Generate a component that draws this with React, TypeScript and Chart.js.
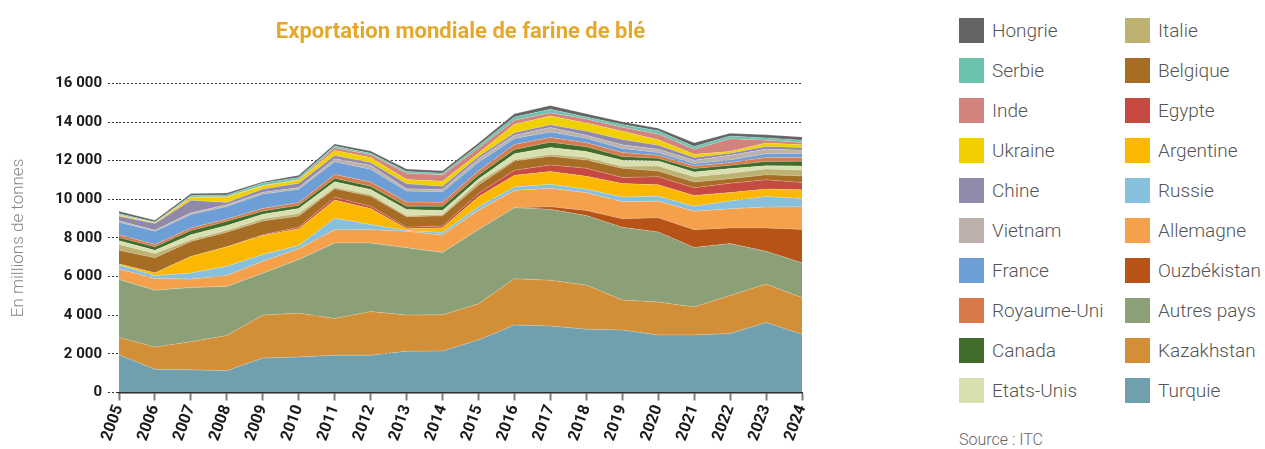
import React, { useEffect, useRef } from 'react';
import { Chart, registerables } from 'chart.js';

Chart.register(...registerables);

const years = ['2005','2006','2007','2008','2009','2010','2011','2012','2013','2014','2015','2016','2017','2018','2019','2020','2021','2022','2023','2024'];

const yTicks = [0, 2000, 4000, 6000, 8000, 10000, 12000, 14000, 16000];

// Stack order, bottom to top
const turquie     = [1950,1200,1180,1130,1780,1840,1930,1930,2140,2150,2720,3490,3440,3280,3230,2980,2980,3050,3620,3020];
const kazakhstan  = [900,1150,1450,1820,2230,2270,1900,2260,1870,1870,1870,2400,2370,2280,1560,1700,1450,1970,1990,1890];
const autresPays  = [3000,2940,2800,2540,2160,2770,3910,3550,3480,3230,3850,3670,3670,3600,3770,3630,3080,2690,1700,1800];
const ouzbekistan = [0,0,0,0,0,0,0,0,0,0,0,0,140,260,440,730,920,810,1210,1730];
const allemagne   = [540,610,440,560,620,560,680,690,860,900,1000,890,950,920,880,860,950,990,1080,1180];
const russie      = [210,150,310,480,350,170,600,260,35,135,170,190,210,180,240,260,260,400,550,420];
const argentine   = [50,140,860,1010,990,870,940,830,90,240,520,600,660,670,700,590,560,440,380,450];
const egypte      = [0,0,0,0,30,80,150,120,80,100,170,260,340,420,310,420,400,480,480,380];
const belgique    = [710,780,780,760,720,570,440,520,540,520,440,480,450,420,480,290,290,240,260,340];
const italie      = [300,220,90,100,120,130,70,90,70,70,170,70,100,140,100,260,280,280,300,310];
const etatsUnis   = [200,170,260,240,230,260,290,260,310,210,140,310,350,310,310,260,240,240,170,210];
const canada      = [160,180,210,220,160,170,180,170,170,210,210,220,280,240,190,140,180,170,220,240];
const royaumeUni  = [140,120,140,120,140,140,200,210,210,210,210,260,240,210,210,160,140,140,210,190];
const france      = [650,690,690,650,740,690,650,660,570,540,450,310,290,230,210,140,120,140,190,210];
const vietnam     = [75,50,90,90,90,90,160,210,120,120,180,170,230,160,190,170,170,240,240,170];
const chine       = [240,350,650,120,170,220,170,140,260,170,120,130,140,210,280,210,140,100,140,140];
const ukraine     = [50,25,140,280,170,170,260,260,220,260,170,430,450,420,420,280,170,100,180,140];
const inde        = [25,10,25,20,20,20,140,150,320,330,260,210,170,210,210,300,260,660,140,120];
const serbie      = [60,35,80,85,120,110,90,70,100,90,140,170,180,100,140,170,140,140,120,120];
const hongrie     = [120,100,100,100,70,120,100,120,120,120,120,170,190,170,150,130,200,140,160,170];

const series = [
  { label: 'Turquie', data: turquie, color: '#70A0AD' },
  { label: 'Kazakhstan', data: kazakhstan, color: '#D28F38' },
  { label: 'Autres pays', data: autresPays, color: '#8BA077' },
  { label: 'Ouzbékistan', data: ouzbekistan, color: '#B85318' },
  { label: 'Allemagne', data: allemagne, color: '#F5A04A' },
  { label: 'Russie', data: russie, color: '#87C0DC' },
  { label: 'Argentine', data: argentine, color: '#FBB800' },
  { label: 'Egypte', data: egypte, color: '#C64A42' },
  { label: 'Belgique', data: belgique, color: '#A86D24' },
  { label: 'Italie', data: italie, color: '#BEB273' },
  { label: 'Etats-Unis', data: etatsUnis, color: '#D8E0B0' },
  { label: 'Canada', data: canada, color: '#426C2B' },
  { label: 'Royaume-Uni', data: royaumeUni, color: '#D8794A' },
  { label: 'France', data: france, color: '#6D9ED5' },
  { label: 'Vietnam', data: vietnam, color: '#BEB0AB' },
  { label: 'Chine', data: chine, color: '#9089A9' },
  { label: 'Ukraine', data: ukraine, color: '#F0D000' },
  { label: 'Inde', data: inde, color: '#D2837D' },
  { label: 'Serbie', data: serbie, color: '#6BC3AE' },
  { label: 'Hongrie', data: hongrie, color: '#646464' },
];

const fmt = (v: number) => {
  const s = String(v);
  return s.length > 3 ? s.slice(0, -3) + ' ' + s.slice(-3) : s;
};

const FONT = 'Roboto, "Noto Sans", sans-serif';

export default function App() {
  const ref = useRef<HTMLCanvasElement | null>(null);

  useEffect(() => {
    if (!ref.current) return;
    const chart = new Chart(ref.current, {
      type: 'line',
      data: {
        labels: years,
        datasets: series.map((s, i) => ({
          label: s.label,
          data: s.data,
          backgroundColor: s.color,
          borderColor: 'rgba(255,255,255,0.35)',
          borderWidth: 0.6,
          fill: i === 0 ? 'origin' : '-1',
          pointRadius: 0,
          tension: 0,
        })),
      },
      options: {
        animation: false,
        responsive: false,
        layout: { padding: { left: 0, right: 38, top: 0, bottom: 0 } },
        plugins: {
          legend: { display: false },
          tooltip: { enabled: false },
          title: {
            display: true,
            text: 'Exportation mondiale de farine de blé',
            color: '#E4A82B',
            fullSize: false,
            font: { family: FONT, size: 22, weight: 'bold' },
            padding: { top: 19, bottom: 38 },
          },
        },
        scales: {
          x: {
            type: 'category',
            offset: false,
            grid: {
              display: true,
              drawOnChartArea: false,
              drawTicks: true,
              tickLength: 8,
              tickColor: '#7a7a7a',
              tickWidth: 2,
            },
            border: { display: true, color: '#222', width: 1.5 },
            ticks: {
              autoSkip: false,
              maxRotation: 70,
              minRotation: 70,
              color: '#1a1a1a',
              padding: 2,
              font: { family: FONT, size: 16, weight: 'bold' },
            },
            afterFit: (s: any) => { s.height = 56.5; },
          },
          y: {
            stacked: true,
            min: 0,
            max: 16000,
            afterBuildTicks: (s: any) => { s.ticks = yTicks.map((v) => ({ value: v })); },
            ticks: {
              callback: (v: any) => fmt(Number(v)),
              color: '#1a1a1a',
              padding: 6,
              font: { family: FONT, size: 15, weight: 'bold' },
            },
            grid: {
              color: '#333',
              lineWidth: 1,
              tickLength: 11,
              tickColor: '#333',
              tickBorderDash: [2, 2],
            },
            border: { display: false, dash: [2, 2] },
            title: {
              display: true,
              text: 'En millions de tonnes',
              color: '#888',
              font: { family: FONT, size: 17, weight: '300' },
              padding: { top: 9, bottom: 0 },
            },
            afterFit: (s: any) => { s.width = 119; },
          },
        },
      },
    } as any);
    return () => chart.destroy();
  }, []);

  const rev = [...series].reverse();
  const cols = [rev.slice(0, 10), rev.slice(10)];
  const colX = [959, 1125];

  return (
    <div style={{ position: 'absolute', left: 0, top: 0, width: 1265, height: 449, background: '#fff', overflow: 'hidden' }}>
      <canvas ref={ref} width={840} height={449} style={{ position: 'absolute', left: 0, top: 0, width: 840, height: 449 }} />
      {cols.map((col, ci) =>
        col.map((s, ri) => (
          <div key={s.label} style={{ position: 'absolute', left: colX[ci], top: 18 + ri * 40, height: 25, display: 'flex', alignItems: 'center' }}>
            <div style={{ width: 25, height: 25, background: s.color }} />
            <span style={{ marginLeft: 8, fontFamily: FONT, fontWeight: 300, fontSize: 19, color: '#555', whiteSpace: 'nowrap' }}>{s.label}</span>
          </div>
        ))
      )}
      <div style={{ position: 'absolute', left: 959, top: 430, fontFamily: FONT, fontWeight: 300, fontSize: 16, color: '#666', whiteSpace: 'nowrap' }}>Source : ITC</div>
    </div>
  );
}
